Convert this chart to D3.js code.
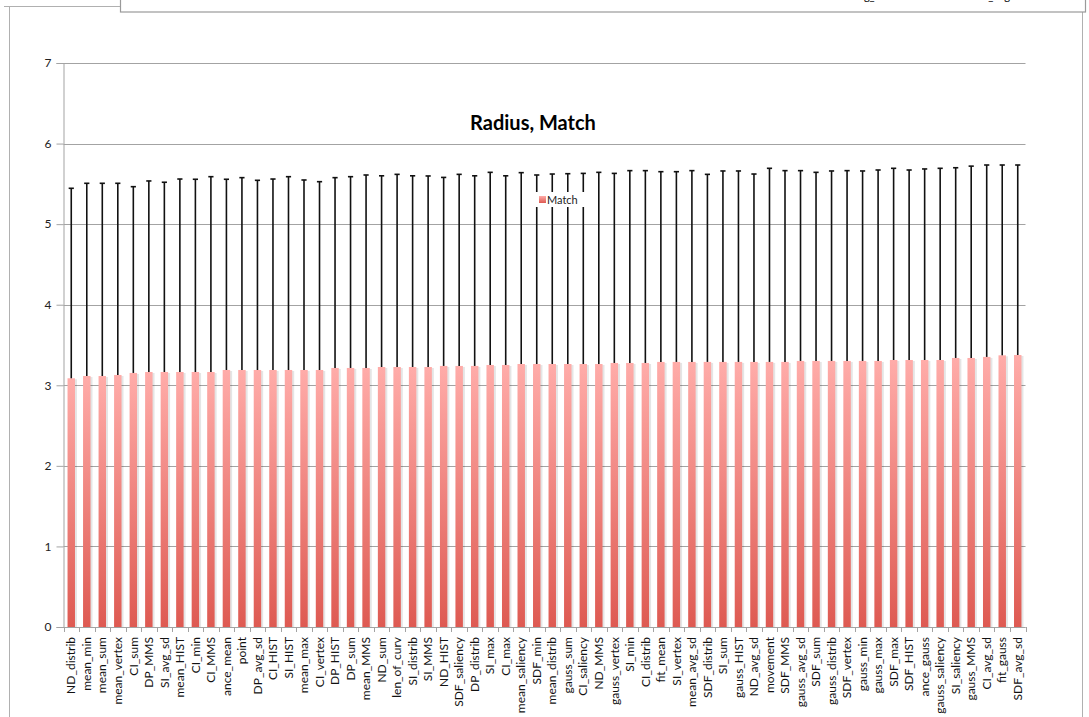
<!DOCTYPE html>
<html><head><meta charset="utf-8">
<script src="https://cdn.jsdelivr.net/npm/d3@7"></script>
<style>
html,body{margin:0;padding:0;background:#fff;}
svg{display:block;font-family:Lato,"Open Sans",sans-serif;}
</style></head>
<body>
<svg id="chart" width="1089" height="717"></svg>
<script>
const categories = ["ND_distrib","mean_min","mean_sum","mean_vertex","CI_sum","DP_MMS","SI_avg_sd","mean_HIST","CI_min","CI_MMS","ance_mean","point","DP_avg_sd","CI_HIST","SI_HIST","mean_max","CI_vertex","DP_HIST","DP_sum","mean_MMS","ND_sum","len_of_curv","SI_distrib","SI_MMS","ND_HIST","SDF_saliency","DP_distrib","SI_max","CI_max","mean_saliency","SDF_min","mean_distrib","gauss_sum","CI_saliency","ND_MMS","gauss_vertex","SI_min","CI_distrib","fit_mean","SI_vertex","mean_avg_sd","SDF_distrib","SI_sum","gauss_HIST","ND_avg_sd","movement","SDF_MMS","gauss_avg_sd","SDF_sum","gauss_distrib","SDF_vertex","gauss_min","gauss_max","SDF_max","SDF_HIST","ance_gauss","gauss_saliency","SI_saliency","gauss_MMS","CI_avg_sd","fit_gauss","SDF_avg_sd"];

const matchValues = [3.087,3.115,3.115,3.128,3.153,3.165,3.165,3.165,3.165,3.165,
3.19,3.19,3.19,3.19,3.19,3.19,3.19,3.215,3.215,3.215,
3.227,3.227,3.227,3.227,3.24,3.24,3.24,3.252,3.252,3.264,
3.264,3.264,3.264,3.264,3.264,3.277,3.277,3.277,3.29,3.29,
3.29,3.29,3.29,3.29,3.29,3.29,3.29,3.302,3.302,3.302,
3.302,3.302,3.302,3.314,3.314,3.314,3.314,3.339,3.339,3.352,
3.372,3.376];

const matchErrors = [2.358,2.392,2.392,2.379,2.312,2.371,2.355,2.395,2.392,2.424,
2.367,2.387,2.354,2.37,2.399,2.358,2.337,2.362,2.374,2.395,
2.373,2.391,2.373,2.371,2.34,2.378,2.36,2.391,2.348,2.375,
2.346,2.358,2.362,2.366,2.379,2.353,2.387,2.387,2.361,2.361,
2.374,2.328,2.37,2.37,2.332,2.403,2.374,2.362,2.341,2.358,
2.362,2.358,2.37,2.379,2.358,2.371,2.379,2.361,2.381,2.382,
2.362,2.358];

const yTicks = [0,1,2,3,4,5,6,7];
const chartTitle = "Radius, Match";
const seriesName = "Match";

const svg = d3.select("#chart");
const plotLeft = 63.5, plotRight = 1025.5, plotTop = 63, plotBottom = 627;

// outer frame & clipped header box
const frame = svg.append("g").attr("fill","none");
frame.append("line").attr("x1",9.5).attr("x2",9.5).attr("y1",6).attr("y2",717).attr("stroke","#b0b0b0");
frame.append("line").attr("x1",4).attr("x2",120).attr("y1",6.5).attr("y2",6.5).attr("stroke","#b0b0b0");
frame.append("line").attr("x1",1082.5).attr("x2",1082.5).attr("y1",12).attr("y2",717).attr("stroke","#b0b0b0");
svg.append("rect").attr("x",120.5).attr("y",-5).attr("width",965).attr("height",17)
  .attr("fill","#fff").attr("stroke","#9a9a9a").attr("stroke-width",1.2);
svg.append("text").attr("x",853).attr("y",0).attr("font-size",11).attr("fill","#000").text("avg_sd");
svg.append("text").attr("x",1010).attr("y",0).attr("font-size",11).attr("fill","#000").attr("text-anchor","end").text("SDF_avg");

const x = d3.scaleBand().domain(categories).range([plotLeft, plotRight]).padding(0);
const y = d3.scaleLinear().domain([0,7]).range([plotBottom, plotTop]);

// gradient
const defs = svg.append("defs");
const grad = defs.append("linearGradient").attr("id","barGrad").attr("x1",0).attr("y1",0).attr("x2",0).attr("y2",1);
grad.append("stop").attr("offset","0%").attr("stop-color","#FFACA9");
grad.append("stop").attr("offset","100%").attr("stop-color","#DE5A52");

// gridlines
svg.append("g").selectAll("line").data(yTicks).join("line")
  .attr("x1",plotLeft).attr("x2",plotRight)
  .attr("y1",d=>Math.round(y(d))+0.5).attr("y2",d=>Math.round(y(d))+0.5)
  .attr("stroke","#a3a3a3").attr("stroke-width",1);

// y axis
const yAxis = svg.append("g").attr("transform",`translate(${plotLeft},0)`)
  .call(d3.axisLeft(y).tickValues(yTicks).tickSize(7).tickPadding(5).tickFormat(d3.format("d")));
yAxis.select(".domain").attr("stroke","#a3a3a3");
yAxis.selectAll(".tick line").attr("stroke","#a3a3a3");
yAxis.selectAll(".tick text").attr("font-size",12).attr("fill","#222").attr("font-family","Lato, sans-serif");

const bw = x.step()*0.48;
const cx = d => x(d) + x.bandwidth()/2;

// bar shadows
svg.append("g").selectAll("rect").data(categories).join("rect")
  .attr("x",(d)=>cx(d)-bw/2+2).attr("width",bw)
  .attr("y",(d,i)=>y(matchValues[i])+1).attr("height",(d,i)=>plotBottom-y(matchValues[i])-1)
  .attr("fill","rgba(0,0,0,0.10)");

// bars
svg.append("g").selectAll("rect").data(categories).join("rect")
  .attr("x",(d)=>cx(d)-bw/2).attr("width",bw)
  .attr("y",(d,i)=>y(matchValues[i])).attr("height",(d,i)=>plotBottom-y(matchValues[i]))
  .attr("fill","url(#barGrad)");

// error bars
const eb = svg.append("g").attr("stroke","#111").attr("stroke-width",1.6);
eb.selectAll("line.v").data(categories).join("line").attr("class","v")
  .attr("x1",cx).attr("x2",cx)
  .attr("y1",(d,i)=>y(matchValues[i])).attr("y2",(d,i)=>y(matchValues[i]+matchErrors[i]));
eb.selectAll("line.c").data(categories).join("line").attr("class","c")
  .attr("x1",d=>cx(d)-2.6).attr("x2",d=>cx(d)+2.6)
  .attr("y1",(d,i)=>y(matchValues[i]+matchErrors[i])).attr("y2",(d,i)=>y(matchValues[i]+matchErrors[i]));

// x axis
const xAxis = svg.append("g").attr("transform",`translate(0,${plotBottom})`)
  .call(d3.axisBottom(x).tickSize(0).tickPadding(0));
xAxis.select(".domain").remove();
svg.append("line").attr("x1",plotLeft).attr("x2",plotRight).attr("y1",plotBottom+0.5).attr("y2",plotBottom+0.5).attr("stroke","#a3a3a3");
svg.append("g").selectAll("line").data(d3.range(categories.length+1)).join("line")
  .attr("x1",i=>Math.round(plotLeft+i*x.step())+0.5).attr("x2",i=>Math.round(plotLeft+i*x.step())+0.5)
  .attr("y1",plotBottom).attr("y2",plotBottom+5).attr("stroke","#a3a3a3");
xAxis.selectAll(".tick line").remove();
xAxis.selectAll(".tick text")
  .attr("transform","translate(0,10) rotate(-90)")
  .attr("text-anchor","end").attr("dy","0.35em").attr("x",0).attr("y",0)
  .attr("font-size",12).attr("fill","#111").attr("font-family","Lato, sans-serif");

// title
svg.append("text").attr("x",533).attr("y",130).attr("text-anchor","middle")
  .attr("font-size",20).attr("font-weight","bold").attr("fill","#000").text(chartTitle);

// legend
const lg = svg.append("g");
lg.append("rect").attr("x",535).attr("y",192).attr("width",50).attr("height",15).attr("fill","#fff");
lg.append("rect").attr("x",539).attr("y",196).attr("width",7).attr("height",7).attr("fill","url(#barGrad)");
lg.append("text").attr("x",547).attr("y",204).attr("font-size",11).attr("fill","#222").text(seriesName);
</script>
</body></html>
